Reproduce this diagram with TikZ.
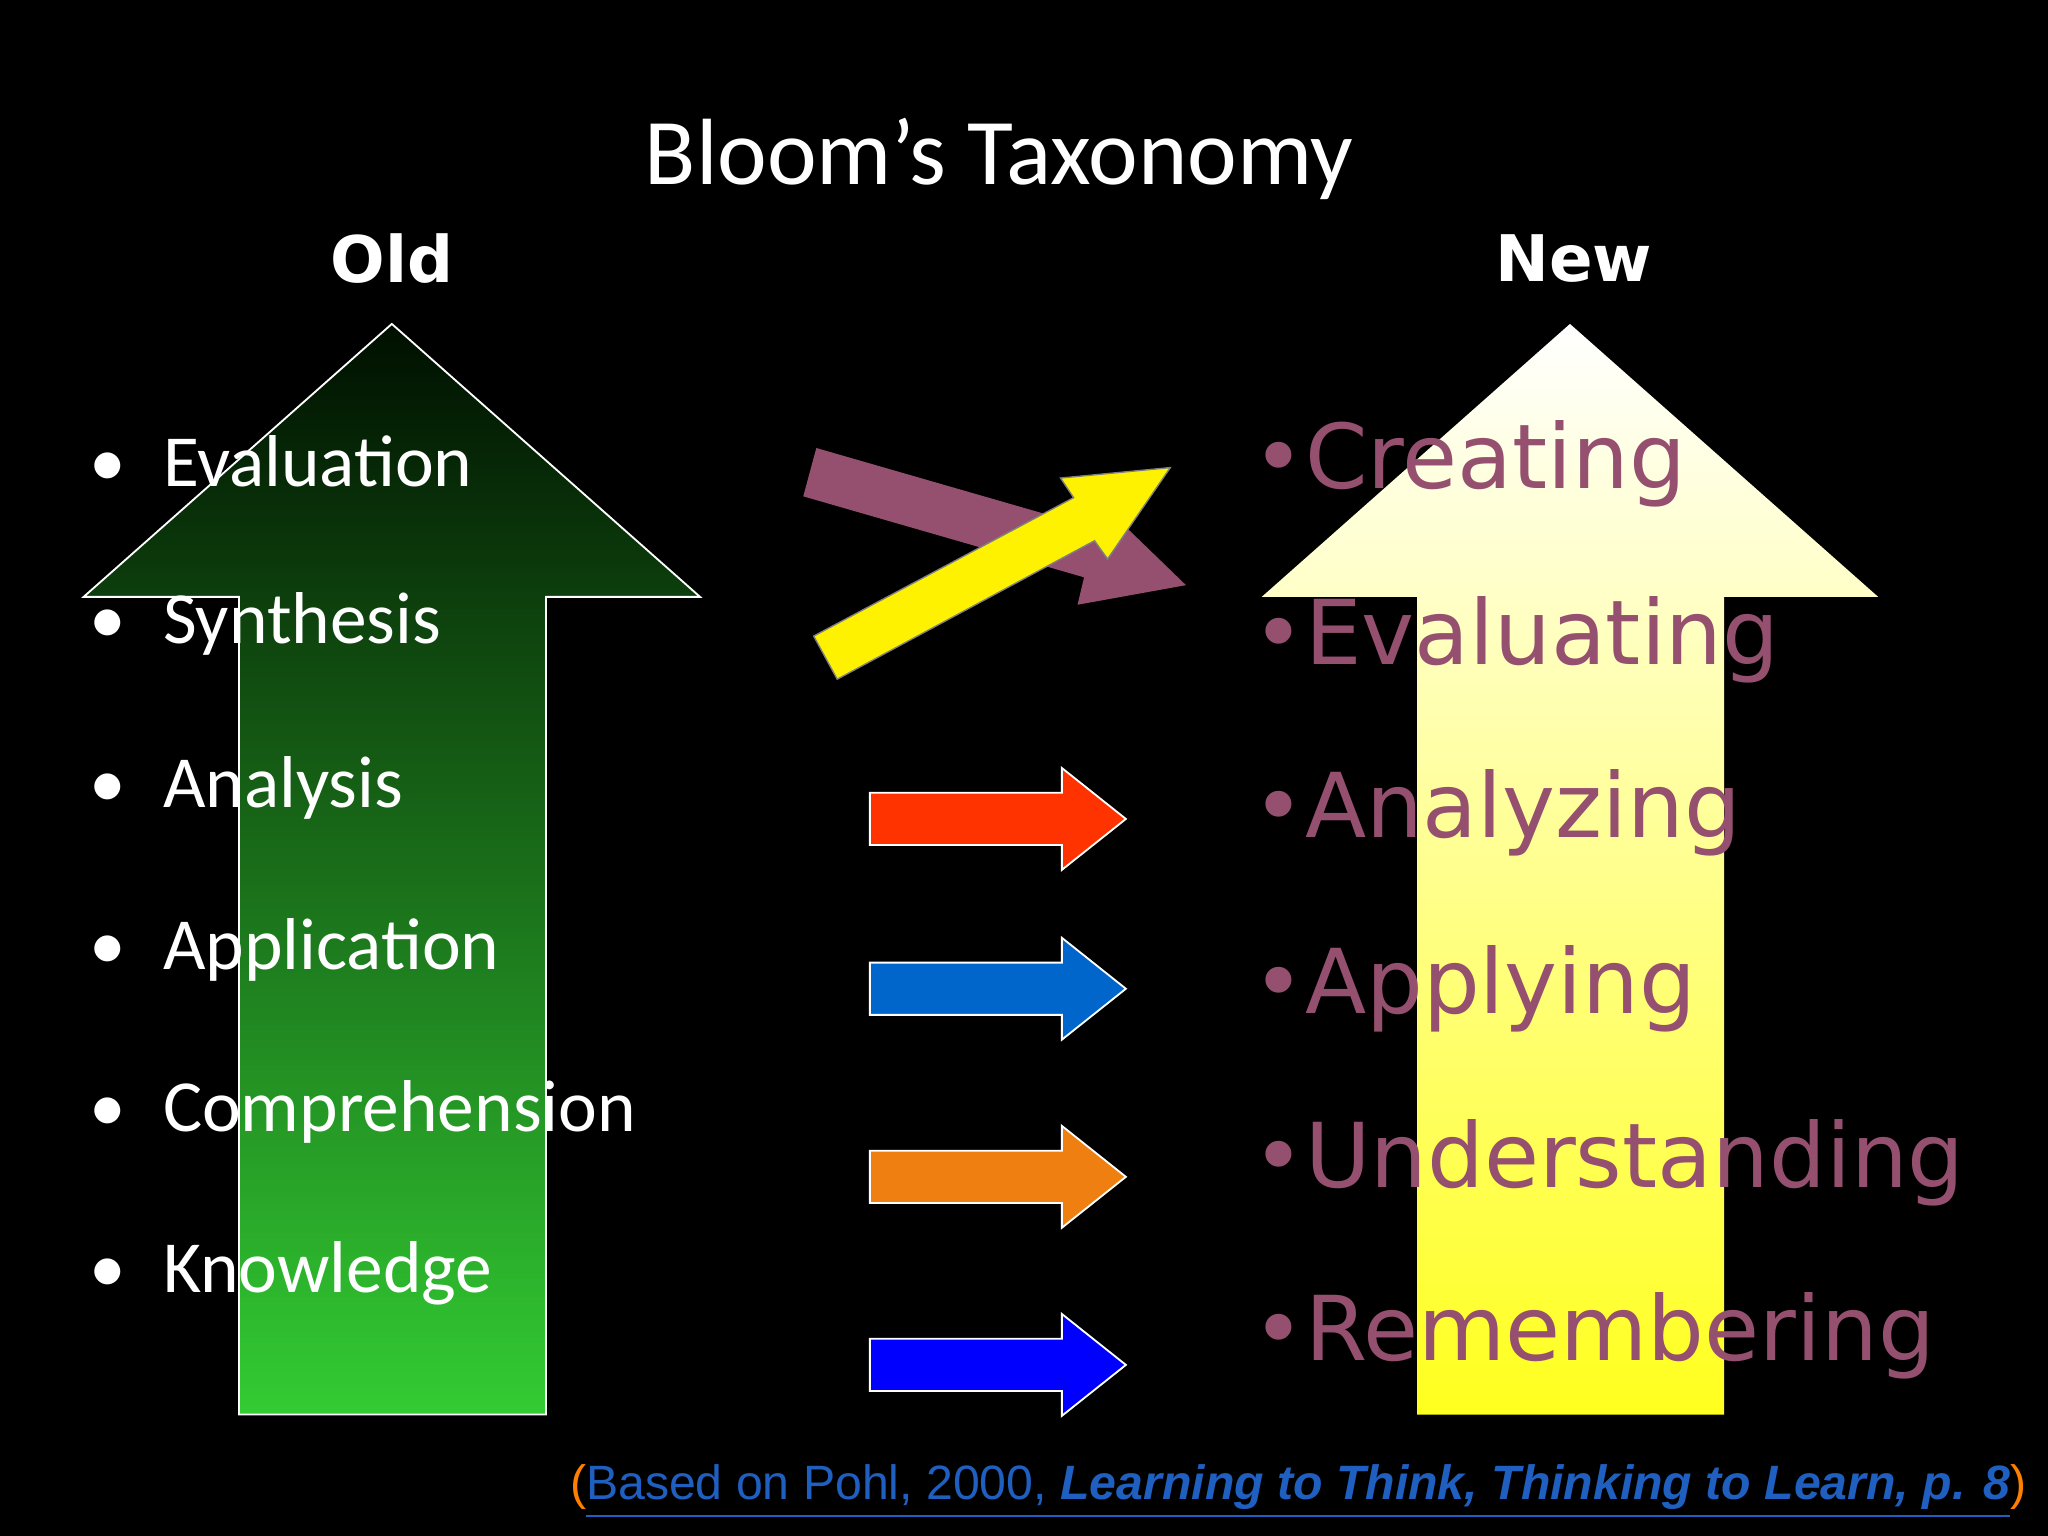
\documentclass[tikz,border=0pt]{standalone}
\usepackage{fontspec}
\setmainfont{Carlito}
\newfontfamily\verd{DejaVu Sans}
\newfontfamily\arial{Liberation Sans}
\begin{document}
\begin{tikzpicture}[x=0.1mm,y=-0.1mm,
  ltxt/.style={anchor=west,text=white,font=\fontsize{16}{18}\selectfont,inner sep=0},
  rtxt/.style={anchor=west,text=mauve,font=\verd\fontsize{19.5}{22}\selectfont,inner sep=0},
  harrow/.style={draw=white,line width=0.4pt}]
\definecolor{mauve}{HTML}{95506F}
\definecolor{lnk}{HTML}{1F5FC0}
\fill[black] (0,0) rectangle (1568,1176);
\useasboundingbox (0,0) rectangle (1568,1176);
\node (title) at (765,122) {\fontsize{20.5}{24}\selectfont\color{white}Bloom’s Taxonomy};
\node (old) at (300,198) {\verd\bfseries\fontsize{14}{16}\selectfont\color{white}Old};
\node (new) at (1205,198) {\verd\bfseries\fontsize{14}{16}\selectfont\color{white}New};
% old arrow
\shade[top color=black!80!green!30!black, bottom color={rgb,255:red,51;green,204;blue,51}]
 (300,248) -- (536,457) -- (418,457) -- (418,1083) -- (183,1083) -- (183,457) -- (64,457) -- cycle;
\draw[white,line width=0.4pt] (300,248) -- (536,457) -- (418,457) -- (418,1083) -- (183,1083) -- (183,457) -- (64,457) -- cycle;
% new arrow
\shade[top color=white, bottom color={rgb,255:red,255;green,255;blue,30}]
 (1202,248) -- (1438,457) -- (1320,457) -- (1320,1083) -- (1085,1083) -- (1085,457) -- (966,457) -- cycle;
% left list
\foreach \t/\y [count=\i] in {Evaluation/353,Synthesis/478,Analysis/603,Application/727,Comprehension/851,Knowledge/975}{
  \node[ltxt] (l\i) at (68,\y) {•\hspace{0.5em}\t};}
% right list
\foreach \t/\y [count=\i] in {Creating/355,Evaluating/490,Analyzing/622,Applying/757,Understanding/890,Remembering/1023}{
  \node[rtxt] (r\i) at (958,\y) {•\t};}
% crossing arrows
\fill[mauve] (625,343) -- (840,405) -- (846,388) -- (908,448) -- (825,463) -- (830,442) -- (615,380) -- cycle;
\filldraw[fill=yellow,draw=gray,line width=0.3pt] (641,520) -- (623,487) -- (822,381) -- (812,366) -- (896,358) -- (848,428) -- (838,414) -- cycle;
% horizontal arrows
\foreach \c/\y in {{rgb,255:red,255;green,51;blue,0}/627,{rgb,255:red,0;green,102;blue,204}/757,{rgb,255:red,238;green,127;blue,16}/901,{rgb,255:red,0;green,0;blue,255}/1045}{
  \filldraw[harrow,fill={\c}] (666,\y-20) -- (813,\y-20) -- (813,\y-39) -- (862,\y) -- (813,\y+39) -- (813,\y+20) -- (666,\y+20) -- cycle;}
% footer
\node[anchor=east,inner sep=0] (foot) at (1552,1142) {\arial\fontsize{10.5}{12}\selectfont\color{orange}(\color{lnk}\underline{Based on Pohl, 2000, \textbf{\textit{Learning to Think, Thinking to Learn, p. 8}}}\color{orange})};
\end{tikzpicture}
\end{document}
